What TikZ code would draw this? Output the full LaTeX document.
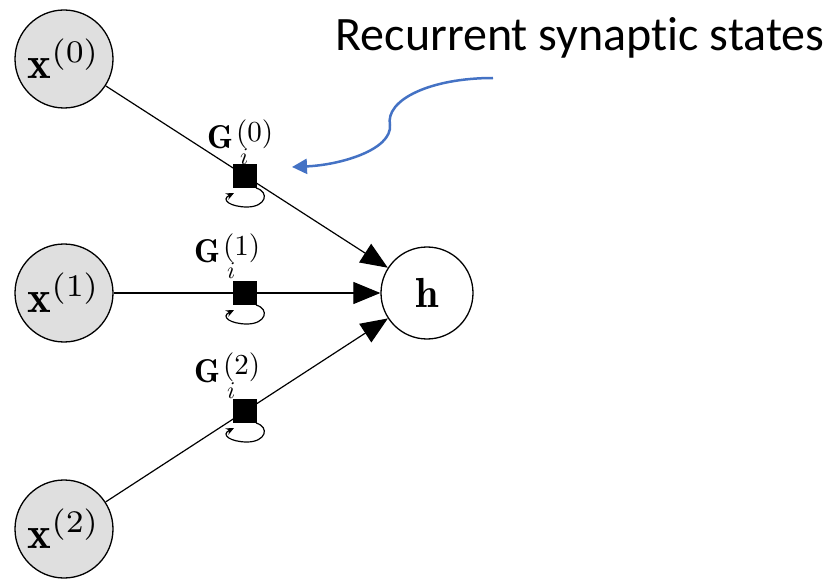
\documentclass[tikz,border=0pt]{standalone}
\usepackage{graphicx}
\usepackage{fontspec}
\newfontfamily\calibrilike[Ligatures=NoCommon]{Carlito}
\usetikzlibrary{arrows.meta}
\newcommand{\bigmath}[2][4.5]{\scalebox{#1}{$#2$}}
% G with subscript i and a superscript index, set piece by piece
\newcommand{\synlabel}[1]{%
  \scalebox{3.3}{$\mathbf{G}$}%
  \rlap{\hspace{7pt}\raisebox{-16pt}{\scalebox{2.4}{$i$}}}%
  \hspace{3pt}\raisebox{7.5pt}{\scalebox{2.9}{(#1)}}}
\tikzset{
  input/.style={circle, draw, line width=1.3pt, fill=gray!25, minimum size=98pt, inner sep=0pt},
  output/.style={circle, draw, line width=1.3pt, fill=white, minimum size=92pt, inner sep=0pt},
  synapse/.style={rectangle, fill=black, minimum size=24pt, inner sep=0pt},
  glabel/.style={inner sep=0pt, anchor=base west},
  edge/.style={line width=1.2pt, -{Triangle[length=27pt, width=22pt]}},
  selfloop/.style={line width=1.2pt, -{Stealth[length=8pt, width=7pt]}},
  note/.style={draw={rgb,255:red,68;green,114;blue,196}, line width=2.5pt, -{Triangle[length=15pt, width=15pt]}}
}
\begin{document}
\begin{tikzpicture}[x=1pt, y=-1pt]
\useasboundingbox (0,0) rectangle (833,580);

% input and output neurons
\node[input] (x0) at (64,59) {\bigmath{\mathbf{x}^{(0)}}};
\node[input] (x1) at (64,293) {\bigmath{\mathbf{x}^{(1)}}};
\node[input] (x2) at (64,529) {\bigmath{\mathbf{x}^{(2)}}};
\node[output] (h) at (427,293) {\bigmath[4.2]{\mathbf{h}}};

% connections into h
\draw[edge] (x0) -- (h);
\draw[edge] (x1) -- (h);
\draw[edge] (x2) -- (h);

% synapse states on each connection
\node[synapse] (g0) at (245,176) {};
\node[synapse] (g1) at (245,293) {};
\node[synapse] (g2) at (245,411) {};

\node[glabel] (l0) at (207,149) {\synlabel{0}};
\node[glabel] (l1) at (194,263) {\synlabel{1}};
\node[glabel] (l2) at (194,382) {\synlabel{2}};

% recurrent self loops under each synapse
\foreach \cx/\cy in {245/176, 245/293, 245/411}{
  \draw[selfloop] ({\cx+11},{\cy+12})
     .. controls ({\cx+25},{\cy+16}) and ({\cx+21},{\cy+31}) .. ({\cx+2},{\cy+31})
     .. controls ({\cx-14},{\cy+31}) and ({\cx-25},{\cy+24}) .. ({\cx-11},{\cy+17});
}

% annotation
\node[font=\calibrilike\fontsize{48}{56}\selectfont, anchor=center] (note) at (580,38) {Recurrent synaptic states};
\coordinate (ns) at (493,78);
\coordinate (ne) at (292,167);
\draw[note] (ns) .. controls (430,78) and (385,100) .. (390,125)
   .. controls (392,150) and (340,165) .. (ne);
\end{tikzpicture}
\end{document}
